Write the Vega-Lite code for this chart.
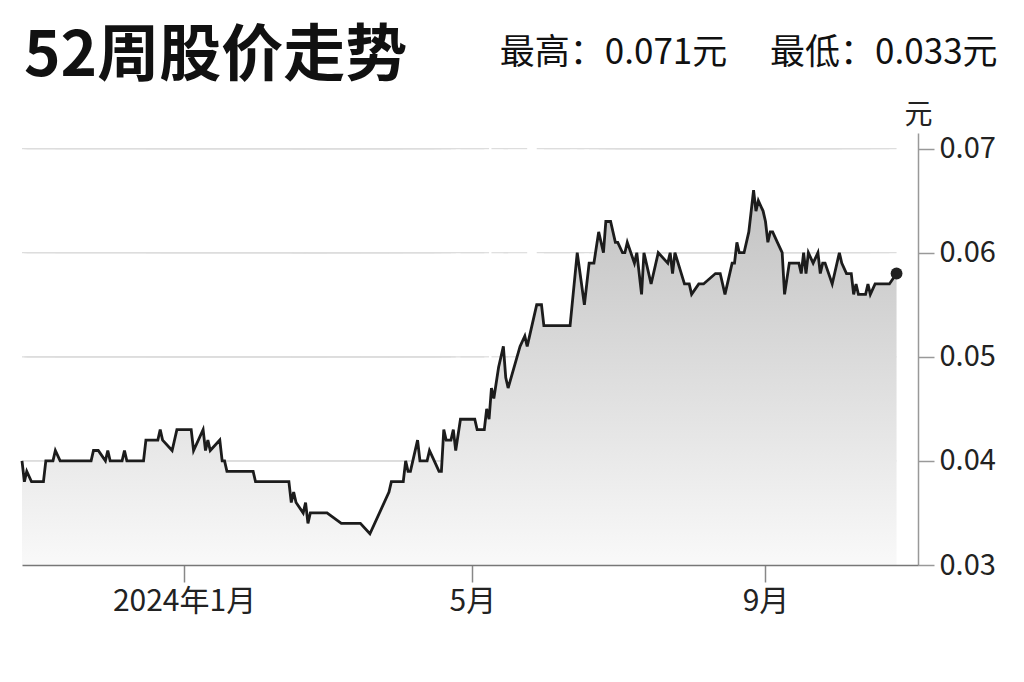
{
  "$schema": "https://vega.github.io/schema/vega-lite/v6.json",
  "width": 896,
  "height": 432,
  "autosize": {"type": "none"},
  "padding": {"left": 22, "top": 133, "right": 106, "bottom": 117},
  "background": "white",
  "config": {"font": "Noto Sans CJK SC", "view": {"stroke": null}},
  "title": {
    "text": "52周股价走势",
    "anchor": "start",
    "frame": "group",
    "fontSize": 62,
    "fontWeight": "bold",
    "color": "#111111",
    "offset": 14,
    "dx": 2,
    "dy": 67
  },
  "data": {"name": "px"},
  "datasets": {
    "px": [
      {"d": "2023-10-25", "p": 0.040},
      {"d": "2023-10-26", "p": 0.038},
      {"d": "2023-10-27", "p": 0.039},
      {"d": "2023-10-29", "p": 0.038},
      {"d": "2023-11-03", "p": 0.038},
      {"d": "2023-11-04", "p": 0.040},
      {"d": "2023-11-07", "p": 0.040},
      {"d": "2023-11-08", "p": 0.041},
      {"d": "2023-11-10", "p": 0.040},
      {"d": "2023-11-23", "p": 0.040},
      {"d": "2023-11-24", "p": 0.041},
      {"d": "2023-11-26", "p": 0.041},
      {"d": "2023-11-29", "p": 0.040},
      {"d": "2023-11-30", "p": 0.041},
      {"d": "2023-12-01", "p": 0.040},
      {"d": "2023-12-06", "p": 0.040},
      {"d": "2023-12-07", "p": 0.041},
      {"d": "2023-12-08", "p": 0.040},
      {"d": "2023-12-15", "p": 0.040},
      {"d": "2023-12-16", "p": 0.042},
      {"d": "2023-12-21", "p": 0.042},
      {"d": "2023-12-22", "p": 0.043},
      {"d": "2023-12-23", "p": 0.042},
      {"d": "2023-12-27", "p": 0.041},
      {"d": "2023-12-29", "p": 0.043},
      {"d": "2024-01-04", "p": 0.043},
      {"d": "2024-01-05", "p": 0.041},
      {"d": "2024-01-09", "p": 0.043},
      {"d": "2024-01-10", "p": 0.041},
      {"d": "2024-01-11", "p": 0.042},
      {"d": "2024-01-12", "p": 0.041},
      {"d": "2024-01-16", "p": 0.042},
      {"d": "2024-01-17", "p": 0.040},
      {"d": "2024-01-18", "p": 0.040},
      {"d": "2024-01-19", "p": 0.039},
      {"d": "2024-01-30", "p": 0.039},
      {"d": "2024-01-31", "p": 0.038},
      {"d": "2024-02-14", "p": 0.038},
      {"d": "2024-02-15", "p": 0.036},
      {"d": "2024-02-16", "p": 0.037},
      {"d": "2024-02-17", "p": 0.036},
      {"d": "2024-02-20", "p": 0.035},
      {"d": "2024-02-21", "p": 0.036},
      {"d": "2024-02-22", "p": 0.034},
      {"d": "2024-02-23", "p": 0.035},
      {"d": "2024-03-01", "p": 0.035},
      {"d": "2024-03-07", "p": 0.034},
      {"d": "2024-03-15", "p": 0.034},
      {"d": "2024-03-19", "p": 0.033},
      {"d": "2024-03-27", "p": 0.037},
      {"d": "2024-03-28", "p": 0.038},
      {"d": "2024-04-02", "p": 0.038},
      {"d": "2024-04-03", "p": 0.040},
      {"d": "2024-04-04", "p": 0.039},
      {"d": "2024-04-05", "p": 0.039},
      {"d": "2024-04-08", "p": 0.042},
      {"d": "2024-04-09", "p": 0.040},
      {"d": "2024-04-12", "p": 0.040},
      {"d": "2024-04-13", "p": 0.041},
      {"d": "2024-04-15", "p": 0.040},
      {"d": "2024-04-17", "p": 0.039},
      {"d": "2024-04-18", "p": 0.039},
      {"d": "2024-04-19", "p": 0.043},
      {"d": "2024-04-20", "p": 0.042},
      {"d": "2024-04-22", "p": 0.042},
      {"d": "2024-04-23", "p": 0.043},
      {"d": "2024-04-24", "p": 0.041},
      {"d": "2024-04-26", "p": 0.044},
      {"d": "2024-05-02", "p": 0.044},
      {"d": "2024-05-03", "p": 0.043},
      {"d": "2024-05-06", "p": 0.043},
      {"d": "2024-05-07", "p": 0.045},
      {"d": "2024-05-08", "p": 0.044},
      {"d": "2024-05-09", "p": 0.047},
      {"d": "2024-05-10", "p": 0.046},
      {"d": "2024-05-12", "p": 0.049},
      {"d": "2024-05-14", "p": 0.051},
      {"d": "2024-05-15", "p": 0.048},
      {"d": "2024-05-16", "p": 0.047},
      {"d": "2024-05-21", "p": 0.051},
      {"d": "2024-05-23", "p": 0.052},
      {"d": "2024-05-24", "p": 0.051},
      {"d": "2024-05-28", "p": 0.055},
      {"d": "2024-05-30", "p": 0.055},
      {"d": "2024-05-31", "p": 0.053},
      {"d": "2024-06-11", "p": 0.053},
      {"d": "2024-06-14", "p": 0.060},
      {"d": "2024-06-17", "p": 0.055},
      {"d": "2024-06-19", "p": 0.059},
      {"d": "2024-06-21", "p": 0.059},
      {"d": "2024-06-23", "p": 0.062},
      {"d": "2024-06-25", "p": 0.060},
      {"d": "2024-06-26", "p": 0.063},
      {"d": "2024-06-28", "p": 0.063},
      {"d": "2024-06-30", "p": 0.061},
      {"d": "2024-07-01", "p": 0.061},
      {"d": "2024-07-03", "p": 0.060},
      {"d": "2024-07-04", "p": 0.060},
      {"d": "2024-07-05", "p": 0.061},
      {"d": "2024-07-08", "p": 0.059},
      {"d": "2024-07-09", "p": 0.060},
      {"d": "2024-07-11", "p": 0.056},
      {"d": "2024-07-12", "p": 0.060},
      {"d": "2024-07-15", "p": 0.057},
      {"d": "2024-07-18", "p": 0.060},
      {"d": "2024-07-22", "p": 0.059},
      {"d": "2024-07-23", "p": 0.060},
      {"d": "2024-07-24", "p": 0.058},
      {"d": "2024-07-25", "p": 0.060},
      {"d": "2024-07-29", "p": 0.057},
      {"d": "2024-07-31", "p": 0.057},
      {"d": "2024-08-01", "p": 0.056},
      {"d": "2024-08-04", "p": 0.057},
      {"d": "2024-08-06", "p": 0.057},
      {"d": "2024-08-11", "p": 0.058},
      {"d": "2024-08-13", "p": 0.058},
      {"d": "2024-08-15", "p": 0.056},
      {"d": "2024-08-18", "p": 0.059},
      {"d": "2024-08-19", "p": 0.059},
      {"d": "2024-08-20", "p": 0.061},
      {"d": "2024-08-21", "p": 0.060},
      {"d": "2024-08-23", "p": 0.060},
      {"d": "2024-08-25", "p": 0.062},
      {"d": "2024-08-26", "p": 0.064},
      {"d": "2024-08-27", "p": 0.066},
      {"d": "2024-08-28", "p": 0.064},
      {"d": "2024-08-29", "p": 0.065},
      {"d": "2024-08-31", "p": 0.064},
      {"d": "2024-09-01", "p": 0.063},
      {"d": "2024-09-02", "p": 0.061},
      {"d": "2024-09-03", "p": 0.062},
      {"d": "2024-09-04", "p": 0.062},
      {"d": "2024-09-06", "p": 0.061},
      {"d": "2024-09-08", "p": 0.060},
      {"d": "2024-09-09", "p": 0.056},
      {"d": "2024-09-11", "p": 0.059},
      {"d": "2024-09-15", "p": 0.059},
      {"d": "2024-09-16", "p": 0.058},
      {"d": "2024-09-17", "p": 0.060},
      {"d": "2024-09-18", "p": 0.058},
      {"d": "2024-09-19", "p": 0.060},
      {"d": "2024-09-21", "p": 0.059},
      {"d": "2024-09-23", "p": 0.060},
      {"d": "2024-09-24", "p": 0.058},
      {"d": "2024-09-25", "p": 0.059},
      {"d": "2024-09-26", "p": 0.059},
      {"d": "2024-09-29", "p": 0.057},
      {"d": "2024-10-02", "p": 0.060},
      {"d": "2024-10-03", "p": 0.059},
      {"d": "2024-10-05", "p": 0.058},
      {"d": "2024-10-07", "p": 0.058},
      {"d": "2024-10-08", "p": 0.056},
      {"d": "2024-10-09", "p": 0.057},
      {"d": "2024-10-10", "p": 0.056},
      {"d": "2024-10-13", "p": 0.056},
      {"d": "2024-10-14", "p": 0.057},
      {"d": "2024-10-15", "p": 0.056},
      {"d": "2024-10-17", "p": 0.057},
      {"d": "2024-10-23", "p": 0.057},
      {"d": "2024-10-26", "p": 0.058}
    ]
  },
  "encoding": {
    "x": {
      "field": "d",
      "type": "temporal",
      "scale": {
        "domain": [
          {"year": 2023, "month": 10, "date": 25},
          {"year": 2024, "month": 11, "date": 4}
        ]
      },
      "axis": {
        "values": [
          {"year": 2024, "month": 1, "date": 1},
          {"year": 2024, "month": 5, "date": 1},
          {"year": 2024, "month": 9, "date": 1}
        ],
        "labelExpr": "month(datum.value) == 0 ? '2024年1月' : (month(datum.value) + 1) + '月'",
        "title": null,
        "grid": false,
        "zindex": 1,
        "domainColor": "#777777",
        "domainWidth": 1.5,
        "tickColor": "#888888",
        "tickWidth": 1.5,
        "tickSize": 17,
        "labelFontSize": 30,
        "labelColor": "#222222",
        "labelPadding": 4,
        "labelFlush": false
      }
    },
    "y": {
      "field": "p",
      "type": "quantitative",
      "scale": {"domain": [0.03, 0.0715], "nice": false, "zero": false},
      "axis": {
        "orient": "right",
        "values": [0.03, 0.04, 0.05, 0.06, 0.07],
        "format": ".2f",
        "grid": false,
        "domainColor": "#999999",
        "domainWidth": 1.5,
        "tickColor": "#999999",
        "tickWidth": 1.5,
        "tickSize": 16,
        "labelFontSize": 29,
        "labelColor": "#222222",
        "labelPadding": 5,
        "title": "元",
        "titleAngle": 0,
        "titleFontSize": 28,
        "titleFontWeight": "normal",
        "titleColor": "#222222",
        "titleAlign": "center",
        "titleBaseline": "bottom",
        "titleX": 0,
        "titleY": -4
      }
    }
  },
  "layer": [
    {
      "mark": {"type": "rule", "color": "#dddddd", "strokeWidth": 1.2},
      "encoding": {
        "x": {"aggregate": "min", "field": "d", "type": "temporal"},
        "x2": {"aggregate": "max", "field": "d"},
        "y": {"datum": 0.04}
      }
    },
    {
      "mark": {"type": "rule", "color": "#dddddd", "strokeWidth": 1.2},
      "encoding": {
        "x": {"aggregate": "min", "field": "d", "type": "temporal"},
        "x2": {"aggregate": "max", "field": "d"},
        "y": {"datum": 0.05}
      }
    },
    {
      "mark": {"type": "rule", "color": "#dddddd", "strokeWidth": 1.2},
      "encoding": {
        "x": {"aggregate": "min", "field": "d", "type": "temporal"},
        "x2": {"aggregate": "max", "field": "d"},
        "y": {"datum": 0.06}
      }
    },
    {
      "mark": {"type": "rule", "color": "#dddddd", "strokeWidth": 1.2},
      "encoding": {
        "x": {"aggregate": "min", "field": "d", "type": "temporal"},
        "x2": {"aggregate": "max", "field": "d"},
        "y": {"datum": 0.07}
      }
    },
    {
      "mark": {
        "type": "area",
        "color": {
          "gradient": "linear",
          "x1": 0, "y1": 0, "x2": 0, "y2": 1,
          "stops": [
            {"offset": 0, "color": "#c2c2c2"},
            {"offset": 1, "color": "#f9f9f9"}
          ]
        }
      },
      "encoding": {"y2": {"datum": 0.03}}
    },
    {
      "mark": {"type": "line", "color": "#1c1c1c", "strokeWidth": 2.8}
    },
    {
      "transform": [
        {"window": [{"op": "row_number", "as": "rn"}], "sort": [{"field": "d", "order": "descending"}]},
        {"filter": "datum.rn == 1"}
      ],
      "mark": {"type": "circle", "size": 140, "color": "#222222", "opacity": 1}
    },
    {
      "transform": [
        {"window": [{"op": "row_number", "as": "rn"}], "sort": [{"field": "d", "order": "descending"}]},
        {"filter": "datum.rn == 1"}
      ],
      "mark": {
        "type": "text",
        "align": "right",
        "baseline": "alphabetic",
        "fontSize": 35,
        "color": "#111111",
        "dx": 101
      },
      "encoding": {
        "text": {"value": "最高：0.071元\u3000\u00a0最低：0.033元"},
        "y": {"datum": 0.0781}
      }
    }
  ]
}
